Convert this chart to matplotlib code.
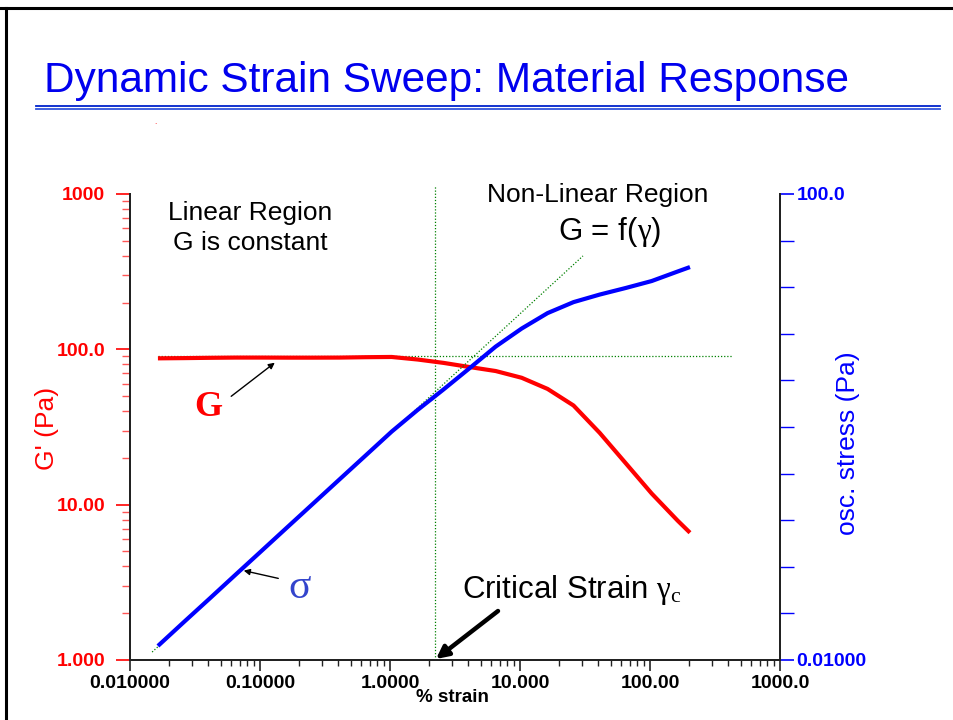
import matplotlib
matplotlib.use("Agg")
import matplotlib.pyplot as plt
from matplotlib.ticker import FixedLocator, FixedFormatter, NullFormatter
from matplotlib.lines import Line2D

plt.rcParams['font.family'] = ['Liberation Sans', 'DejaVu Sans']
plt.rcParams['mathtext.fontset'] = 'custom'
plt.rcParams['mathtext.rm'] = 'Liberation Serif'
plt.rcParams['mathtext.it'] = 'Liberation Serif'

# % strain readings
strain = [0.0164, 0.026, 0.041, 0.065, 0.103, 0.163, 0.258, 0.41, 0.65, 1.03,
          1.63, 2.58, 4.1, 6.5, 10.3, 16.3, 25.8, 41, 65, 103, 163, 203]
# G' (Pa), left axis
g_prime = [87.5, 87.8, 88.2, 88.5, 88.5, 88.4, 88.4, 88.5, 89.0, 89.3,
           86.0, 81.8, 76.9, 72.5, 65.6, 55.6, 43.5, 29.0, 18.5, 11.8, 7.9, 6.6]
# oscillation stress (Pa), right axis
stress = [0.0132, 0.0212, 0.0337, 0.0541, 0.0866, 0.1386, 0.2216, 0.356, 0.570, 0.913,
          1.40, 2.1, 3.2, 4.9, 7.0, 9.5, 11.8, 13.7, 15.6, 17.9, 21.6, 23.6]

# guide lines
crit_strain = 2.22
plateau_g = 90.6
plateau_x = [0.0164, 428]
slope_x = [0.0148, 30.5]
slope_stress = [0.0117, 29.4]

x_ticks = [0.01, 0.1, 1, 10, 100, 1000]
x_labels = ['0.010000', '0.10000', '1.0000', '10.000', '100.00', '1000.0']
g_ticks = [1, 10, 100, 1000]
g_labels = ['1.000', '10.00', '100.0', '1000']
s_ticks = [0.01, 100]
s_labels = ['0.01000', '100.0']
s_minor = [10 ** (-2 + 0.4 * k) for k in range(1, 10)]

W, H = 954, 720
fig = plt.figure(figsize=(W / 100, H / 100), dpi=100)


def fx(px):
    return px / W


def fy(py):
    return 1 - py / H


# slide frame, title and underline
fig.add_artist(Line2D([0, 1], [fy(8), fy(8)], color='black', lw=2.2))
fig.add_artist(Line2D([fx(6), fx(6)], [0, fy(8)], color='black', lw=2.2))
fig.text(fx(44), fy(81), 'Dynamic Strain Sweep: Material Response', color='#0000ee',
         fontsize=30.5, va='center', ha='left')
fig.add_artist(Line2D([fx(36), fx(940)], [fy(106), fy(106)], color='#0022cc', lw=1.3))
fig.add_artist(Line2D([fx(36), fx(940)], [fy(108.5), fy(108.5)], color='#3355dd', lw=1.3))
fig.text(fx(155), fy(122), '.', color='red', fontsize=6, ha='center', va='center')

ax = fig.add_axes([fx(130), fy(660), fx(780) - fx(130), fy(194) - fy(660)])
ax2 = ax.twinx()

ax.set_xscale('log')
ax.set_yscale('log')
ax2.set_yscale('log')
ax.set_xlim(0.01, 1000)
ax.set_ylim(1, 1000)
ax2.set_ylim(0.01, 100)

# guides
ax.axvline(crit_strain, ymin=0, ymax=1.02, color='green', lw=0.9, ls=(0, (1, 1.5)), clip_on=False)
ax.plot(plateau_x, [plateau_g, plateau_g], color='green', lw=0.9, ls=(0, (1, 1.5)))
ax2.plot(slope_x, slope_stress, color='green', lw=0.9, ls=(0, (1, 1.5)))

ax.plot(strain, g_prime, color='#ff0000', lw=3, solid_capstyle='butt', zorder=3)
ax2.plot(strain, stress, color='#0000ff', lw=3, solid_capstyle='butt', zorder=3)

for a in (ax, ax2):
    a.spines['top'].set_visible(False)
    for sp in ['left', 'right', 'bottom']:
        a.spines[sp].set_linewidth(1.4)
        a.spines[sp].set_color('#222222')

ax.xaxis.set_major_locator(FixedLocator(x_ticks))
ax.xaxis.set_major_formatter(FixedFormatter(x_labels))
ax.xaxis.set_minor_formatter(NullFormatter())
ax.tick_params(axis='x', which='major', length=8, width=1.2, color='#222222', pad=3,
               labelsize=14)
ax.tick_params(axis='x', which='minor', length=4, width=1, color='#222222')
for lab in ax.get_xticklabels():
    lab.set_fontweight('bold')

ax.yaxis.set_major_locator(FixedLocator(g_ticks))
ax.yaxis.set_major_formatter(FixedFormatter(g_labels))
ax.yaxis.set_minor_formatter(NullFormatter())
ax.tick_params(axis='y', which='major', length=10, width=1.2, color='red', pad=8,
               labelsize=14, labelcolor='red')
ax.tick_params(axis='y', which='minor', length=6, width=1, color='#ff5555')
for lab in ax.get_yticklabels():
    lab.set_fontweight('bold')

ax2.yaxis.set_major_locator(FixedLocator(s_ticks))
ax2.yaxis.set_major_formatter(FixedFormatter(s_labels))
ax2.yaxis.set_minor_locator(FixedLocator(s_minor))
ax2.yaxis.set_minor_formatter(NullFormatter())
ax2.tick_params(axis='y', which='major', length=10, width=1.2, color='blue', pad=2,
                labelsize=14, labelcolor='blue')
ax2.tick_params(axis='y', which='minor', length=10, width=1, color='blue')
for lab in ax2.get_yticklabels():
    lab.set_fontweight('bold')

ax.set_xlabel('% strain', fontsize=13.5, fontweight='bold', labelpad=0)
ax.xaxis.set_label_coords((452 - 130) / 650, -(689 - 660) / 466)
ax.set_ylabel("G' (Pa)", color='red', fontsize=19)
ax.yaxis.set_label_coords((59 - 130) / 650, (660 - 428) / 466)
ax2.set_ylabel('osc. stress (Pa)', color='blue', fontsize=19, rotation=90)
ax2.yaxis.set_label_coords((836 - 130) / 650, (660 - 443) / 466)

# annotations
fig.text(fx(250), fy(213), 'Linear Region', fontsize=19, ha='center', va='center')
fig.text(fx(250), fy(243), 'G is constant', fontsize=19, ha='center', va='center')
fig.text(fx(598), fy(195), 'Non-Linear Region', fontsize=19, ha='center', va='center')
fig.text(fx(610), fy(232), r'G = f($\mathrm{\gamma}$)', fontsize=22.5, ha='center', va='center')
fig.text(fx(462), fy(590), r'Critical Strain $\mathrm{\gamma_c}$', fontsize=22.5,
         ha='left', va='center')
fig.text(fx(208), fy(408), 'G', fontsize=26, fontweight='bold', color='red', ha='center',
         va='center', family='Liberation Serif')
fig.text(fx(300), fy(588), '\u03c3', fontsize=30, color='#3344cc', ha='center', va='center',
         family='Liberation Serif')

ax.annotate('', xy=(fx(277), fy(361)), xytext=(fx(229), fy(398)),
            xycoords='figure fraction', textcoords='figure fraction',
            arrowprops=dict(arrowstyle='-|>', lw=1, color='black', mutation_scale=9))
ax.annotate('', xy=(fx(241), fy(570)), xytext=(fx(281), fy(579)),
            xycoords='figure fraction', textcoords='figure fraction',
            arrowprops=dict(arrowstyle='-|>', lw=1, color='black', mutation_scale=9))
ax.annotate('', xy=(fx(436), fy(659)), xytext=(fx(498), fy(611)),
            xycoords='figure fraction', textcoords='figure fraction',
            arrowprops=dict(arrowstyle='-|>', lw=3.2, color='black', mutation_scale=18,
                            shrinkA=0, shrinkB=0))

fig.savefig('out.png', dpi=100)
